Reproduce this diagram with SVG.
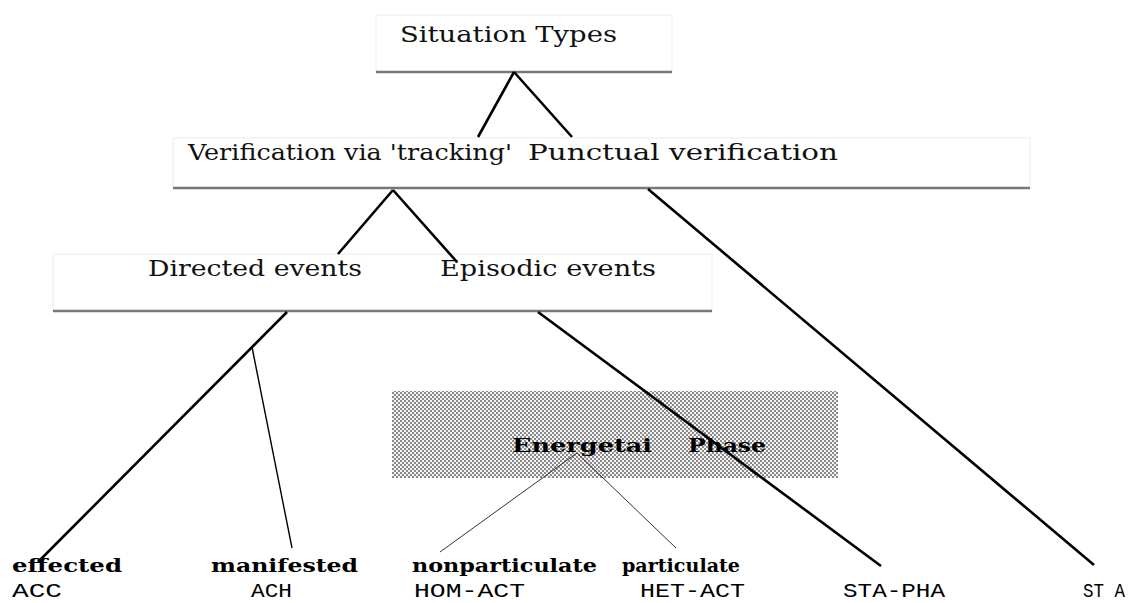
<svg xmlns="http://www.w3.org/2000/svg" width="1132" height="603" viewBox="0 0 1132 603">
<style>
.box{fill:#fff;stroke:#ececec;stroke-width:1}
.sh{stroke:#777;stroke-width:2.5}
.t{font-family:"DejaVu Serif","Liberation Serif",serif;font-size:22px;fill:#111}
.b{font-family:"DejaVu Serif","Liberation Serif",serif;font-size:19px;font-weight:bold;fill:#000}
.c{font-family:"Liberation Mono","DejaVu Sans Mono",monospace;font-size:21px;fill:#000}
.thick{stroke:#000;stroke-width:2.6;fill:none}
.thin{stroke:#000;stroke-width:1.4;fill:none}
.hair{stroke:#333;stroke-width:1;fill:none}
</style>
<defs>
<pattern id="chk" width="4" height="4" patternUnits="userSpaceOnUse">
<rect width="4" height="4" fill="#f4f4f4"/>
<rect x="0" y="0" width="2" height="2" fill="#8a8a8a"/>
<rect x="2" y="2" width="2" height="2" fill="#8a8a8a"/>
</pattern>
</defs>
<rect width="1132" height="603" fill="#fff"/>
<g id="node-situation">
<rect class="box" x="376" y="15" width="296" height="57"/>
<line class="sh" x1="376" y1="72" x2="672" y2="72"/>
<text class="t" x="400" y="42" font-size="24" textLength="217" lengthAdjust="spacingAndGlyphs">Situation Types</text>
</g>
<g id="node-verification">
<rect class="box" x="173" y="138" width="857" height="50"/>
<line class="sh" x1="173" y1="188" x2="1030" y2="188"/>
<text class="t" x="188" y="160" textLength="324" lengthAdjust="spacingAndGlyphs">Verification via 'tracking'</text>
<text class="t" x="528" y="160" textLength="310" lengthAdjust="spacingAndGlyphs">Punctual verification</text>
</g>
<g id="node-events">
<rect class="box" x="53" y="254" width="659" height="57"/>
<line class="sh" x1="53" y1="311" x2="712" y2="311"/>
<text class="t" x="148" y="276" textLength="214" lengthAdjust="spacingAndGlyphs">Directed events</text>
<text class="t" x="440" y="276" textLength="216" lengthAdjust="spacingAndGlyphs">Episodic events</text>
</g>
<g id="node-phase">
<rect x="392" y="391" width="446" height="87" fill="url(#chk)"/>
<text class="b" x="512" y="452" textLength="140" lengthAdjust="spacingAndGlyphs">Energetai</text>
<text class="b" x="688" y="452" textLength="78" lengthAdjust="spacingAndGlyphs">Phase</text>
</g>
<g id="connectors">
<line class="thick" x1="514" y1="72" x2="478" y2="137"/>
<line class="thick" x1="514" y1="72" x2="572" y2="137"/>
<line class="thick" x1="393" y1="190" x2="338" y2="254"/>
<line class="thick" x1="393" y1="190" x2="457" y2="262"/>
<line class="thick" x1="648" y1="189" x2="1094" y2="565"/>
<line class="thick" x1="287" y1="312" x2="38" y2="562"/>
<line class="thin" x1="252" y1="347" x2="292" y2="548"/>
<line class="thick" x1="538" y1="312" x2="881" y2="566"/>
<line class="hair" x1="440" y1="552" x2="577" y2="453"/>
<line class="hair" x1="577" y1="453" x2="676" y2="548"/>
</g>
<g id="node-acc"><text class="b" x="12" y="572" textLength="110" lengthAdjust="spacingAndGlyphs">effected</text><text class="c" x="12" y="597" textLength="50" lengthAdjust="spacingAndGlyphs">ACC</text></g>
<g id="node-ach"><text class="b" x="211" y="572" textLength="147" lengthAdjust="spacingAndGlyphs">manifested</text><text class="c" x="251" y="597" textLength="41" lengthAdjust="spacingAndGlyphs">ACH</text></g>
<g id="node-homact"><text class="b" x="412" y="572" textLength="185" lengthAdjust="spacingAndGlyphs">nonparticulate</text><text class="c" x="414" y="597" textLength="111" lengthAdjust="spacingAndGlyphs">HOM-ACT</text></g>
<g id="node-hetact"><text class="b" x="622" y="572" textLength="118" lengthAdjust="spacingAndGlyphs">particulate</text><text class="c" x="640" y="597" textLength="105" lengthAdjust="spacingAndGlyphs">HET-ACT</text></g>
<g id="node-stapha"><text class="c" x="843" y="597" textLength="102" lengthAdjust="spacingAndGlyphs">STA-PHA</text></g>
<g id="node-sta"><text class="c" x="1083" y="597" textLength="42" lengthAdjust="spacingAndGlyphs">ST A</text></g>
</svg>
